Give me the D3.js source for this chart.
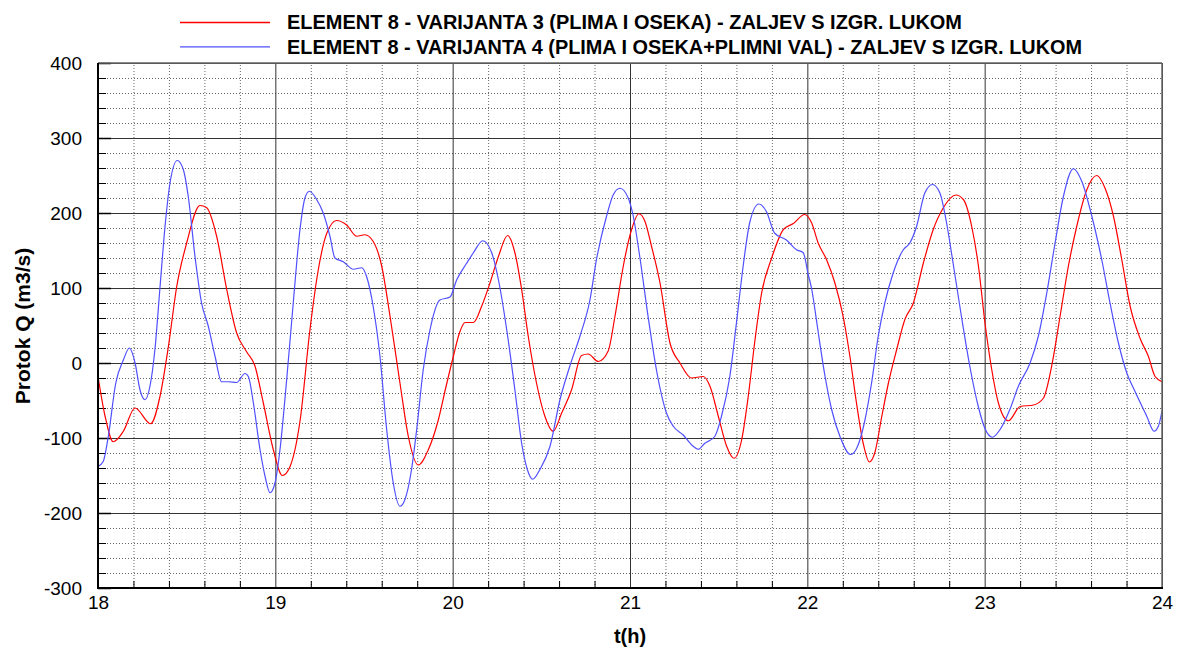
<!DOCTYPE html>
<html><head><meta charset="utf-8">
<script src="https://cdn.jsdelivr.net/npm/d3@7"></script>
<style>
html,body{margin:0;padding:0;background:#fff;}
svg{display:block;font-family:"Liberation Sans",Arial,sans-serif;}
</style></head>
<body><svg id="c" width="1186" height="652"></svg>
<script>
const legendLabels = [
  "ELEMENT 8 - VARIJANTA 3 (PLIMA I OSEKA) - ZALJEV S IZGR. LUKOM",
  "ELEMENT 8 - VARIJANTA 4 (PLIMA I OSEKA+PLIMNI VAL) - ZALJEV S IZGR. LUKOM"
];
const xTicks = [18,19,20,21,22,23,24];
const yTicks = [-300,-200,-100,0,100,200,300,400];
const xTitle = "t(h)";
const yTitle = "Protok Q (m3/s)";

const tRed = [18,18.04,18.086,18.143,18.209,18.297,18.35,18.397,18.444,18.5,18.575,18.613,18.669,18.726,18.782,18.838,18.885,18.932,18.989,19.04,19.083,19.14,19.195,19.242,19.29,19.346,19.402,19.459,19.505,19.552,19.6,19.647,19.703,19.75,19.806,19.862,19.919,19.962,20.004,20.041,20.07,20.117,20.164,20.211,20.258,20.31,20.351,20.389,20.426,20.473,20.52,20.567,20.614,20.67,20.727,20.764,20.821,20.877,20.915,20.962,21.009,21.05,21.084,21.121,21.169,21.225,21.282,21.347,21.413,21.451,21.498,21.545,21.586,21.63,21.667,21.705,21.742,21.799,21.865,21.921,21.985,22.024,22.061,22.108,22.155,22.202,22.24,22.277,22.315,22.35,22.38,22.42,22.457,22.504,22.55,22.598,22.654,22.71,22.767,22.838,22.88,22.927,22.965,23.002,23.04,23.077,23.134,23.2,23.275,23.331,23.378,23.425,23.472,23.519,23.576,23.632,23.679,23.726,23.773,23.82,23.876,23.923,23.961,24];
const qRed = [-18,-71,-105,-91,-60,-81,-44,22,102,160,210,207,169,98,40,15,-4,-53,-116,-150,-138,-76,44,124,173,190,184,169,171,162,129,62,-27,-98,-136,-116,-76,-32,9,42,54,54,76,107,142,170,147,98,36,-27,-71,-91,-67,-36,10,12,2,16,62,129,178,199,189,156,107,27,0,-20,-18,-31,-71,-111,-127,-102,-44,31,93,140,178,186,198,187,160,138,107,62,9,-53,-107,-132,-120,-71,-27,18,58,80,133,178,207,224,218,182,129,53,-9,-53,-77,-58,-56,-47,-4,62,129,182,231,250,233,196,138,76,33,9,-18,-25];

const tBlue = [18,18.03,18.058,18.1,18.143,18.177,18.209,18.237,18.265,18.293,18.321,18.35,18.378,18.406,18.447,18.481,18.509,18.547,18.584,18.622,18.66,18.697,18.735,18.782,18.829,18.848,18.876,18.914,18.942,18.97,18.998,19.026,19.064,19.101,19.139,19.167,19.192,19.233,19.27,19.308,19.336,19.383,19.44,19.487,19.515,19.552,19.59,19.628,19.665,19.703,19.731,19.768,19.797,19.834,19.872,19.928,19.985,20.023,20.079,20.117,20.17,20.22,20.258,20.305,20.351,20.389,20.421,20.451,20.492,20.549,20.605,20.661,20.718,20.774,20.811,20.868,20.905,20.943,20.99,21.018,21.055,21.102,21.149,21.206,21.243,21.3,21.356,21.384,21.422,21.478,21.516,21.563,21.6,21.638,21.675,21.726,21.769,21.816,21.882,21.939,21.977,22.005,22.025,22.043,22.062,22.1,22.137,22.184,22.244,22.287,22.325,22.362,22.4,22.437,22.484,22.541,22.578,22.616,22.663,22.706,22.747,22.785,22.822,22.869,22.916,22.964,23.001,23.044,23.086,23.142,23.19,23.256,23.303,23.35,23.397,23.444,23.5,23.548,23.604,23.66,23.707,23.754,23.801,23.848,23.914,23.955,23.98,24];
const qBlue = [-138,-131,-98,-27,4,20,0,-36,-49,-31,18,102,182,240,270,258,222,142,80,49,9,-25,-25,-26,-14,-18,-53,-116,-151,-173,-160,-116,-22,80,178,220,229,218,200,169,140,135,125,127,115,75,9,-89,-160,-191,-182,-142,-89,-9,44,84,88,111,133,147,163,147,111,44,-36,-107,-142,-155,-142,-111,-49,-4,36,84,138,196,224,233,220,196,142,62,-9,-67,-84,-96,-111,-115,-107,-98,-71,-18,53,129,187,212,202,173,164,151,147,118,98,71,40,-18,-62,-98,-122,-109,-76,-27,36,80,120,151,160,182,227,238,227,187,133,62,-4,-58,-87,-99,-89,-62,-31,0,36,93,160,222,259,242,196,138,80,27,-13,-38,-71,-91,-84,-64];

const seriesColors = ["#ff0000","#5050ff"];

const svg = d3.select("#c");
const L = 98, R = 1162, T = 63, B = 588;
const x = d3.scaleLinear().domain([18,24]).range([L,R]);
const y = d3.scaleLinear().domain([-300,400]).range([B,T]);

const xMinor = d3.range(18,24.0001,0.2).map(v=>+v.toFixed(2)).filter(v=>!xTicks.includes(v));
const yMinor = d3.range(-300,400.1,20).filter(v=>!yTicks.includes(v));

// minor dotted grid
svg.append("g").attr("transform",`translate(0,${B})`)
  .call(d3.axisBottom(x).tickValues(xMinor).tickSize(-(B-T)).tickFormat(""))
  .call(g=>g.select(".domain").remove())
  .call(g=>g.selectAll("line").attr("stroke","#666").attr("stroke-dasharray","1,2"));
svg.append("g").attr("transform",`translate(${L},0)`)
  .call(d3.axisLeft(y).tickValues(yMinor).tickSize(-(R-L)).tickFormat(""))
  .call(g=>g.select(".domain").remove())
  .call(g=>g.selectAll("line").attr("stroke","#666").attr("stroke-dasharray","1,2"));
// major grid
svg.append("g").attr("transform",`translate(0,${B})`)
  .call(d3.axisBottom(x).tickValues(xTicks).tickSize(-(B-T)).tickFormat(""))
  .call(g=>g.select(".domain").remove())
  .call(g=>g.selectAll("line").attr("stroke","#333").attr("stroke-width",1));
svg.append("g").attr("transform",`translate(${L},0)`)
  .call(d3.axisLeft(y).tickValues(yTicks).tickSize(-(R-L)).tickFormat(""))
  .call(g=>g.select(".domain").remove())
  .call(g=>g.selectAll("line").attr("stroke","#333").attr("stroke-width",1));

// inward ticks
svg.append("g").attr("transform",`translate(${L},0)`)
  .call(d3.axisRight(y).tickValues(yTicks).tickSize(13).tickFormat(""))
  .call(g=>g.select(".domain").remove())
  .call(g=>g.selectAll("line").attr("stroke","#000").attr("stroke-width",1.5));
svg.append("g").attr("transform",`translate(${L},0)`)
  .call(d3.axisRight(y).tickValues(yMinor).tickSize(8).tickFormat(""))
  .call(g=>g.select(".domain").remove())
  .call(g=>g.selectAll("line").attr("stroke","#000").attr("stroke-width",1));
svg.append("g").attr("transform",`translate(0,${B})`)
  .call(d3.axisTop(x).tickValues(xMinor).tickSize(7).tickFormat(""))
  .call(g=>g.select(".domain").remove())
  .call(g=>g.selectAll("line").attr("stroke","#000").attr("stroke-width",1));

// series
const line = d3.line().x(d=>x(d[0])).y(d=>y(d[1])).curve(d3.curveMonotoneX);
svg.append("clipPath").attr("id","pc").append("rect")
  .attr("x",L).attr("y",T).attr("width",R-L).attr("height",B-T);
[[tRed,qRed],[tBlue,qBlue]].forEach((s,i)=>{
  svg.append("path").attr("clip-path","url(#pc)")
    .datum(s[0].map((t,j)=>[t,s[1][j]]))
    .attr("fill","none").attr("stroke",seriesColors[i]).attr("stroke-width",1.2)
    .attr("d",line);
});

// frame
svg.append("line").attr("x1",L).attr("x2",R).attr("y1",T).attr("y2",T).attr("stroke","#666").attr("stroke-width",1.5);
svg.append("line").attr("x1",R).attr("x2",R).attr("y1",T).attr("y2",B).attr("stroke","#666").attr("stroke-width",1.5);
svg.append("line").attr("x1",L).attr("x2",L).attr("y1",T).attr("y2",B+1).attr("stroke","#000").attr("stroke-width",2);
svg.append("line").attr("x1",L-1).attr("x2",R+1).attr("y1",B).attr("y2",B).attr("stroke","#000").attr("stroke-width",2);

// labels
const plainFmt = d => String(d);
svg.append("g").attr("transform",`translate(${L},0)`)
  .call(d3.axisLeft(y).tickValues(yTicks).tickSize(0).tickPadding(16).tickFormat(plainFmt))
  .call(g=>g.select(".domain").remove())
  .call(g=>g.selectAll("text").attr("font-size",19).attr("fill","#000").attr("font-family","Liberation Sans, Arial"));
svg.append("g").attr("transform",`translate(0,${B})`)
  .call(d3.axisBottom(x).tickValues(xTicks).tickSize(0).tickPadding(8).tickFormat(plainFmt))
  .call(g=>g.select(".domain").remove())
  .call(g=>g.selectAll("text").attr("font-size",19).attr("fill","#000").attr("font-family","Liberation Sans, Arial"));

svg.append("text").attr("x",630).attr("y",643).attr("text-anchor","middle")
  .attr("font-weight","bold").attr("font-size",20).text(xTitle);
svg.append("text").attr("transform","translate(30,326) rotate(-90)").attr("text-anchor","middle")
  .attr("font-weight","bold").attr("font-size",21).text(yTitle);

// legend
const legW = [675, 795];
legendLabels.forEach((lab,i)=>{
  const ly = 22.5 + i*24.3;
  svg.append("line").attr("x1",180).attr("x2",270).attr("y1",ly).attr("y2",ly)
    .attr("stroke",seriesColors[i]).attr("stroke-width",1.3);
  svg.append("text").attr("x",287).attr("y",ly+6.7).attr("font-size",19.5)
    .attr("font-weight","bold").attr("textLength",legW[i]).attr("lengthAdjust","spacingAndGlyphs")
    .text(lab);
});
</script></body></html>
